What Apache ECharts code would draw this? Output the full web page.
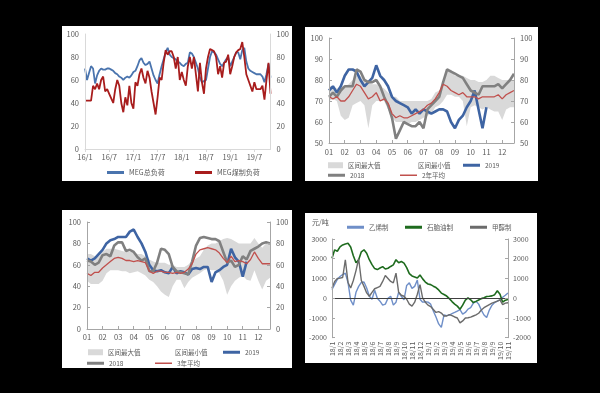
<!DOCTYPE html>
<html><head><meta charset="utf-8">
<script src="https://cdn.jsdelivr.net/npm/echarts@6/dist/echarts.min.js"></script>
<style>
html,body{margin:0;padding:0;background:#000;width:600px;height:393px;overflow:hidden}
.p{position:absolute;background:#fff}
</style></head><body>
<div id="c1" class="p" style="left:62px;top:26px;width:230px;height:155px"></div>
<div id="c2" class="p" style="left:305px;top:27px;width:233px;height:154px"></div>
<div id="c3" class="p" style="left:62px;top:210px;width:230px;height:158px"></div>
<div id="c4" class="p" style="left:305px;top:213px;width:232px;height:150px"></div>
<script>
// ---------- DATA ----------
// Panel 1: MEG load (semi-monthly, 2016/1 - 2019/11)
const p1Labels = ['16/1','16/7','17/1','17/7','18/1','18/7','19/1','19/7'];
const p1Total = [70,60,66,72,70,57,64,68,70,69, 69,70,70,69,68,66,65,63,62,60, 62,63,62,64,67,68,72,77,79,75, 73,74,76,70,64,60,57,65,72,78, 84,88,82,80,79,78,76,75,73,72, 74,75,84,83,80,75,70,62,58,59, 60,70,80,85,84,82,78,74,72,75, 78,80,72,76,80,84,84,78,86,88, 76,70,68,67,66,65,65,65,63,58, 65,74,62];
const p1Coal = [42,42,42,42,55,52,57,52,60,63, 50,52,48,44,40,52,60,55,40,32, 45,38,55,40,35,58,55,65,70,62, 57,68,62,50,40,30,45,62,60,75, 86,82,85,85,80,70,80,60,67,60, 55,72,80,70,80,65,50,75,58,48, 70,80,87,86,85,80,65,72,62,75, 76,82,65,72,80,84,86,87,93,80, 65,60,55,50,58,52,52,52,55,43, 60,75,48];

// Panel 2: weekly (4 per month), months 01-12
const p2Labels = ['01','02','03','04','05','06','07','08','09','10','11','12'];
const p2Max = [77,77,76,77,77,78,80,82,82,80, 79,78,78,77,76,74,72,72,70,70, 70,70,70,70,70,70,71,74,75,78, 84,85,82,82,82,81,80,80,79,79, 80,82,82,81,80,80,80,80];
const p2Min = [70,71,70,63,61,62,68,69,70,68, 57,68,70,70,70,66,62,60,60,60, 59,60,60,61,62,63,64,67,68,70, 73,73,72,72,70,58,67,68,67,66, 67,66,65,65,61,66,67,67];
const p2Y2019 = [75,77,74,77,82,85,85,84,80,77, 79,81,87,82,80,77,72,70,69,68, 67,64,66,64,66,65,64,65,66,66, 65,60,57,61,63,67,70,75,66,57, 67,null,null,null,null,null,null,null];
const p2Y2018 = [72,74,72,75,77,77,77,85,84,80, 79,79,80,77,72,68,62,52,56,60, 59,58,58,60,57,66,68,70,72,79, 85,84,83,82,81,78,75,74,73,77, 77,77,77,78,76,78,80,83];
const p2Avg = [72,71,72,70,70,72,75,78,77,74, 71,72,74,70,71,69,64,62,63,62, 62,63,64,65,66,68,69,71,74,78, 77,75,74,73,74,72,72,72,71,72, 72,72,72,73,71,73,74,75];

// Panel 3
const p3Labels = ['01','02','03','04','05','06','07','08','09','10','11','12'];
const p3Max = [70,70,68,68,72,75,75,75,74,73, 72,72,72,70,70,68,65,63,62,62, 62,60,60,58,58,58,60,64,66,68, 74,78,80,80,82,84,85,84,82,80, 80,80,80,85,80,76,80,80];
const p3Min = [45,42,42,42,45,52,55,55,55,54, 54,52,53,54,52,50,46,44,40,35, 32,30,40,46,46,38,44,48,50,52, 55,56,55,55,52,45,32,40,45,48, 50,46,45,55,45,37,45,48];
const p3Y2019 = [66,64,66,70,74,80,83,84,86,86, 86,91,93,86,80,72,60,55,54,55, 53,52,58,52,54,53,51,56,57,56, 58,58,44,53,55,58,60,75,67,63, 49,63,null,null,null,null,null,null];
const p3Y2018 = [64,63,60,62,69,70,68,78,81,81, 73,74,72,67,64,66,54,54,62,75, 74,70,58,54,53,52,51,63,78,85, 86,85,84,84,82,72,62,64,58,60, 68,65,73,75,77,80,81,80];
const p3Avg = [52,50,53,53,57,60,63,66,67,66, 64,64,63,64,63,62,54,52,54,54, 53,53,52,53,52,53,56,61,70,74, 75,76,75,74,71,66,62,68,63,64, 63,61,65,72,66,61,61,61];

// Panel 4: margins (yuan/ton), 3 points per month 18/1 - 19/11
const p4Labels = ['18/1','18/2','18/3','18/4','18/5','18/6','18/7','18/8','18/9','18/10','18/11','18/12','19/1','19/2','19/3','19/4','19/5','19/6','19/7','19/8','19/9','19/10','19/11'];
const p4Ethylene = [440,700,950,1100,1200,1270,800,-100,-350,300, 600,800,820,520,100,-50,400,0,-150,-350, -300,0,100,-350,-200,300,100,-80,650,780, 500,600,920,-50,-200,-180,-200,-300,-650,-950, -1300,-1480,-850,-880,-850,-780,-720,-650,-580,-800, -720,-550,-480,-250,-150,-300,-600,-850,-980,-600, -350,-220,-150,-80,50,150,270];
const p4Naphtha = [2030,2450,2380,2600,2700,2750,2780,2600,2150,1800, 1950,2350,2450,2280,1950,1700,1500,1450,1530,1600, 1480,1520,1610,1690,1950,1800,1860,1780,1550,1250, 1130,1080,1020,1180,980,820,720,690,610,540, 420,260,190,110,-20,-170,-300,-400,-560,-350, -100,20,-80,-220,-160,-90,-20,20,90,100, 120,180,380,200,-200,-100,-60];
const p4Methanol = [520,850,1000,1020,1050,1950,800,520,900,1400, 2000,900,600,270,100,300,480,540,600,850, 1150,1000,850,780,1270,300,150,100,-50,-300, -400,-200,200,690,0,-200,-350,-420,-570,-720, -680,-750,-900,-900,-830,-880,-950,-1000,-1250,-1150, -1000,-990,-960,-900,-840,-760,-600,-480,-400,-320, -250,-200,-150,-80,-320,-250,-230];

// ---------- STYLE ----------
const FONT = '"Noto Sans CJK SC", sans-serif';
const TXT = '#595959';
const AX = '#A6A6A6';
const txt = (size) => ({color: TXT, fontSize: size, fontFamily: FONT});

function catX(n, labels, step, o) {
  const show = (i) => i % step === 0;
  return {
    type: 'category', data: Array.from({length: n}, (_, i) => String(i)), boundaryGap: false, z: 10,
    axisLine: {show: o.line !== false, onZero: false, lineStyle: {color: o.axisColor || AX}},
    axisTick: {show: o.tick !== false, interval: show, inside: !!o.tickInside, length: 3, lineStyle: {color: o.axisColor || AX}},
    axisLabel: Object.assign({interval: show, formatter: (v, i) => labels[i / step] || '', margin: o.margin || 4}, txt(o.size || 7.5), o.label || {})
  };
}
function valY(min, max, interval, pos, o) {
  return {
    type: 'value', min, max, interval, position: pos, z: 10,
    axisLine: {show: true, lineStyle: {color: o.axisColor || AX}},
    axisTick: {show: o.tick !== false, inside: true, length: 3, lineStyle: {color: o.axisColor || AX}},
    splitLine: {show: false},
    axisLabel: Object.assign({margin: o.margin || 6, formatter: (v) => String(v)}, txt(o.size || 7.5))
  };
}
function lineS(name, data, color, width, extra) {
  return Object.assign({name, type: 'line', data, symbol: 'none', smooth: false, connectNulls: false,
    lineStyle: {color, width}, itemStyle: {color}}, extra || {});
}
function areaS(name, data, color) {
  return {name, type: 'line', data, symbol: 'none', lineStyle: {width: 0, color}, itemStyle: {color},
    areaStyle: {color, opacity: 1}};
}
function leg(name, left, top, color, kind, size) {
  const isBox = kind === 'box';
  return {left, top, icon: 'rect', itemWidth: isBox ? 15 : 17, itemHeight: isBox ? 6 : (kind === 'thin' ? 1.5 : 3),
    itemGap: 0, selectedMode: false, padding: 0, textStyle: txt(size || 6.5),
    data: [{name, itemStyle: {color}}]};
}

// ---------- PANEL 1 ----------
const BLUE1 = '#4A74AE', RED1 = '#A81D1D';
echarts.init(document.getElementById('c1')).setOption({
  animation: false,
  grid: {left: 23, right: 20, top: 8, height: 115},
  xAxis: catX(p1Total.length, p1Labels, 12, {axisColor: '#D9D9D9', size: 7.5}),
  yAxis: [valY(0, 100, 20, 'left', {axisColor: '#D9D9D9', tick: false}), valY(0, 100, 20, 'right', {axisColor: '#D9D9D9', tick: false})],
  legend: [leg('MEG总负荷', 45, 143, BLUE1, 'line', 7), leg('MEG煤制负荷', 133, 143, RED1, 'line', 7)],
  series: [lineS('MEG总负荷', p1Total, BLUE1, 1.8), lineS('MEG煤制负荷', p1Coal, RED1, 1.8)]
});

// ---------- PANEL 2 ----------
const BAND = '#D9D9D9', B19 = '#3E64A3', G18 = '#808080', RAVG = '#C0504D';
echarts.init(document.getElementById('c2')).setOption({
  animation: false,
  grid: {left: 24, right: 24, top: 11, height: 105},
  xAxis: catX(p2Max.length, p2Labels, 4, {tickInside: true, margin: 5}),
  yAxis: [valY(50, 100, 10, 'left', {}), valY(50, 100, 10, 'right', {})],
  legend: [leg('区间最大值', 23, 135, BAND, 'box'), leg('区间最小值', 93, 135, '#FFFFFF', 'box'), leg('2019', 158, 135, B19, 'line'),
           leg('2018', 23, 145, G18, 'line'), leg('2年平均', 95, 145, RAVG, 'thin')],
  series: [areaS('区间最大值', p2Max, BAND), areaS('区间最小值', p2Min, '#FFFFFF'),
           lineS('2019', p2Y2019, B19, 2.6), lineS('2018', p2Y2018, G18, 2.6), lineS('2年平均', p2Avg, RAVG, 1.3)]
});

// ---------- PANEL 3 ----------
echarts.init(document.getElementById('c3')).setOption({
  animation: false,
  grid: {left: 25, right: 22, top: 12, height: 107},
  xAxis: catX(p3Max.length, p3Labels, 4, {tickInside: true, margin: 4}),
  yAxis: [valY(0, 100, 20, 'left', {}), valY(0, 100, 20, 'right', {})],
  legend: [leg('区间最大值', 26, 139, BAND, 'box'), leg('区间最小值', 93, 139, '#FFFFFF', 'box'), leg('2019', 161, 139, B19, 'line'),
           leg('2018', 25, 150, G18, 'line'), leg('3年平均', 93, 150, RAVG, 'thin')],
  series: [areaS('区间最大值', p3Max, BAND), areaS('区间最小值', p3Min, '#FFFFFF'),
           lineS('2019', p3Y2019, B19, 2.6), lineS('2018', p3Y2018, G18, 2.6), lineS('3年平均', p3Avg, RAVG, 1.3)]
});

// ---------- PANEL 4 ----------
const C_ETH = '#6F8FC8', C_NAP = '#1E6B1E', C_MET = '#6B6B6B';
echarts.init(document.getElementById('c4')).setOption({
  animation: false,
  grid: {left: 27, right: 29, top: 26, height: 99},
  xAxis: catX(p4Naphtha.length, p4Labels, 3, {tick: false, line: false, size: 7, margin: 4, label: {rotate: 90}}),
  yAxis: [valY(-2000, 3000, 1000, 'left', {size: 7, margin: 5}), valY(-2000, 3000, 1000, 'right', {size: 7, margin: 5})],
  legend: [leg('乙烯制', 42, 11, C_ETH, 'line'), leg('石脑油制', 100, 11, C_NAP, 'line'), leg('甲醇制', 165, 11, C_MET, 'line')],
  graphic: [{type: 'text', left: 7, top: 6, style: {text: '元/吨', fill: TXT, font: '7px "Noto Sans CJK SC"'}}],
  series: [
    lineS('乙烯制', p4Ethylene, C_ETH, 1.4, {markLine: {silent: true, symbol: 'none', label: {show: false},
      lineStyle: {color: '#404040', width: 1, type: 'solid'}, data: [{yAxis: 0}]}}),
    lineS('石脑油制', p4Naphtha, C_NAP, 1.6),
    lineS('甲醇制', p4Methanol, C_MET, 1.4)
  ]
});
</script>
</body></html>
